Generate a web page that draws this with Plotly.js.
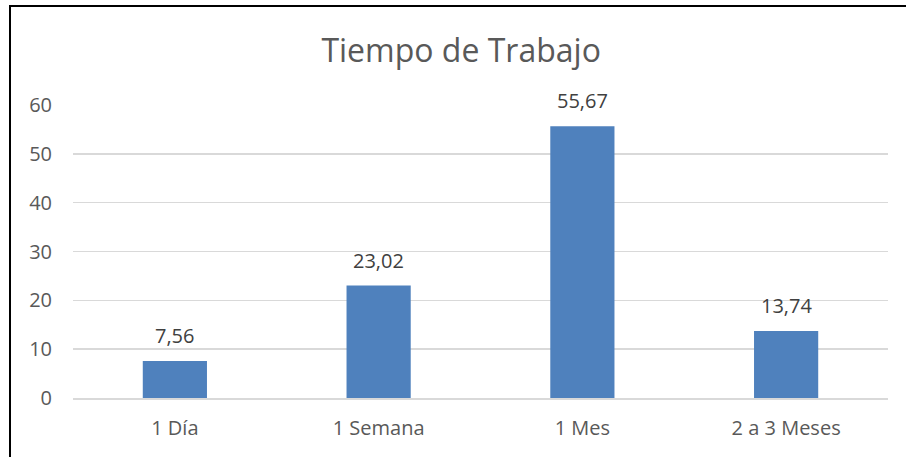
<!DOCTYPE html>
<html>
<head>
<meta charset="utf-8">
<script src="https://cdn.plot.ly/plotly-3.0.1.min.js"></script>
<style>
html,body{margin:0;padding:0;background:#fff;}
#wrap{position:relative;width:906px;height:457px;}
#chart{position:absolute;left:0;top:0;width:906px;height:457px;}
#frame{position:absolute;left:9px;top:5px;width:897px;height:452px;border-left:2px solid #000;border-top:2px solid #000;pointer-events:none;}
</style>
</head>
<body>
<div id="wrap">
<div id="chart"></div>
<div id="frame"></div>
</div>
<script>
const categories = ["1 Día", "1 Semana", "1 Mes", "2 a 3 Meses"];
const values = [7.56, 23.02, 55.67, 13.74];
const yTicks = [0, 10, 20, 30, 40, 50, 60];

const font = "'Open Sans', sans-serif";
const trace = {
  type: "bar",
  x: categories,
  y: values,
  marker: {color: "#4F81BD"},
  cliponaxis: false,
  hoverinfo: "x+y"
};
const annotations = categories.map((c, i) => ({
  x: c, y: values[i], xref: "x", yref: "y",
  text: values[i].toFixed(2).replace(".", ","),
  showarrow: false, yanchor: "bottom", yshift: 10,
  font: {family: font, size: 20, color: "#404040"}
}));
const layout = {
  width: 906, height: 457,
  separators: ",.",
  margin: {l: 73, r: 18, t: 105, b: 59},
  paper_bgcolor: "#fff", plot_bgcolor: "#fff",
  bargap: 0.685,
  title: {text: "Tiempo de Trabajo", font: {family: font, size: 32, color: "#595959"}, x: 0.509, xanchor: "center", y: 0.888, yanchor: "middle"},
  xaxis: {
    tickfont: {family: font, size: 20, color: "#595959"},
    showline: true, linecolor: "#d9d9d9", linewidth: 1.5,
    ticks: "", ticklabelstandoff: 11, fixedrange: true
  },
  yaxis: {
    range: [0, 60], tickvals: yTicks, ticktext: yTicks.map(String),
    tickfont: {family: font, size: 20, color: "#595959"},
    gridcolor: "#d9d9d9", gridwidth: 1.5, zeroline: false,
    showline: false, ticks: "", ticklabelstandoff: 20, fixedrange: true
  },
  annotations: annotations,
  showlegend: false
};
Plotly.newPlot("chart", [trace], layout, {displayModeBar: false, staticPlot: true});
</script>
</body>
</html>
